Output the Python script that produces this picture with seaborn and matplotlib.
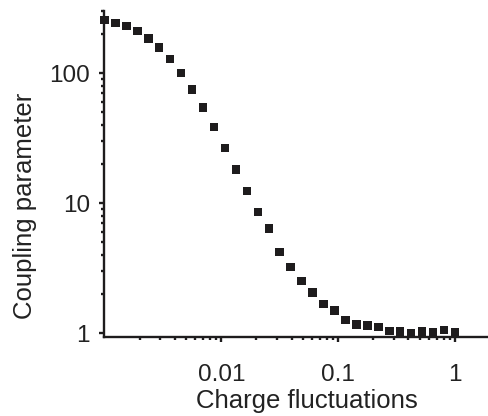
import matplotlib
matplotlib.use("Agg")
import matplotlib.pyplot as plt
import matplotlib.ticker as mticker
import seaborn as sns
import pandas as pd

charge_fluctuations = [0.00100, 0.00124, 0.00154, 0.00191, 0.00237, 0.00294, 0.00365,
                       0.00453, 0.00562, 0.00698, 0.00866, 0.01075, 0.01334, 0.01655,
                       0.02054, 0.02549, 0.03162, 0.03924, 0.04870, 0.06043, 0.07499,
                       0.09306, 0.1155, 0.1433, 0.1778, 0.2207, 0.2738, 0.3398,
                       0.4217, 0.5233, 0.6494, 0.8058, 1.0]
coupling_parameter = [255, 243, 230, 210, 185, 158, 128, 100, 74.8, 54.3, 38.6, 26.5,
                      18.1, 12.4, 8.55, 6.40, 4.20, 3.22, 2.51, 2.05, 1.67, 1.49, 1.26,
                      1.16, 1.14, 1.11, 1.04, 1.03, 1.00, 1.025, 1.01, 1.055, 1.01]
x_tick_values = [0.01, 0.1, 1]
x_tick_labels = ["0.01", "0.1", "1"]
y_tick_values = [1, 10, 100]
y_tick_labels = ["1", "10", "100"]

df = pd.DataFrame({"x": charge_fluctuations, "y": coupling_parameter})

sns.set_style("ticks")
plt.rcParams['font.family'] = ['Liberation Sans', 'DejaVu Sans']

fig = plt.figure(figsize=(4.89, 4.16), dpi=100)
ax = fig.add_axes([0.2137, 0.191, 0.786, 0.7825])

sns.scatterplot(data=df, x="x", y="y", marker="s", s=38, color="#1e1c1d",
                edgecolor="none", linewidth=0, ax=ax, clip_on=False, zorder=3)

ax.set_xscale("log")
ax.set_yscale("log")
ax.set_xlim(0.001, 1.95)
ax.set_ylim(0.94, 300)

ax.set_xticks(x_tick_values)
ax.set_xticklabels(x_tick_labels)
ax.set_yticks(y_tick_values)
ax.set_yticklabels(y_tick_labels)
ax.xaxis.set_minor_locator(mticker.LogLocator(base=10, subs=range(2, 10), numticks=20))
ax.yaxis.set_minor_locator(mticker.LogLocator(base=10, subs=range(2, 10), numticks=20))
ax.xaxis.set_minor_formatter(mticker.NullFormatter())
ax.yaxis.set_minor_formatter(mticker.NullFormatter())

for side in ["top", "right"]:
    ax.spines[side].set_visible(False)
for side in ["left", "bottom"]:
    ax.spines[side].set_linewidth(1.7)
    ax.spines[side].set_color("#1e1c1d")

ax.tick_params(axis="both", which="major", direction="out", length=3.6, width=1.7,
               colors="#1e1c1d", labelsize=17.5, labelcolor="#222222")
ax.tick_params(axis="both", which="minor", direction="out", length=2.4, width=1.7,
               colors="#1e1c1d")
ax.tick_params(axis="x", which="major", pad=16)
ax.tick_params(axis="y", which="major", pad=7)

ax.set_xlabel("Charge fluctuations", fontsize=18.5, color="#222222")
ax.set_ylabel("Coupling parameter", fontsize=18.5, color="#222222")
ax.xaxis.set_label_coords(0.527, -0.162)
ax.yaxis.set_label_coords(-0.175, 0.40)

fig.savefig("out.png", dpi=100)
